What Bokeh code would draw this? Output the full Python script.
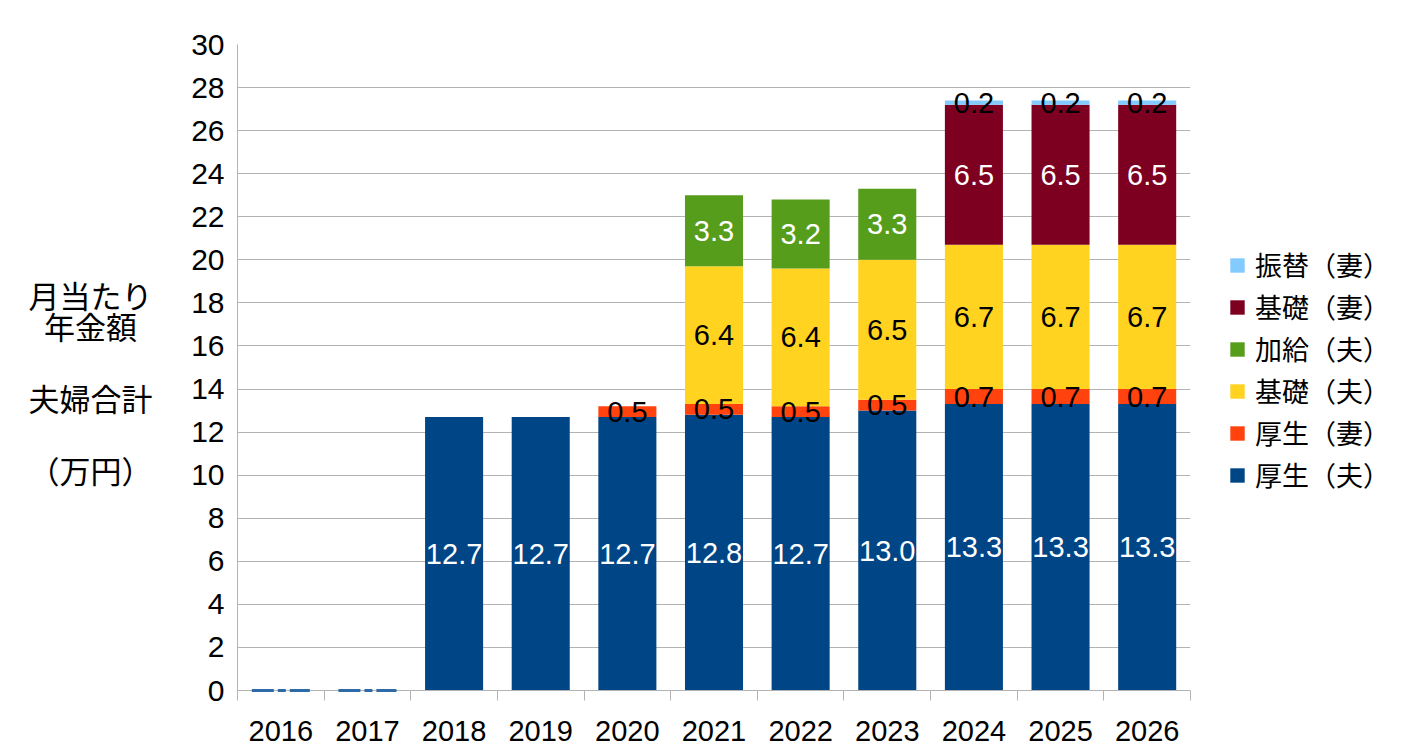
from bokeh.plotting import figure
from bokeh.models import (ColumnDataSource, FixedTicker, Legend, LegendItem, Range1d)
from bokeh.layouts import row
from bokeh.core.properties import value
from bokeh.embed import file_html
from bokeh.resources import INLINE

years = ["2016", "2017", "2018", "2019", "2020", "2021", "2022", "2023", "2024", "2025", "2026"]
kosei_otto = [0, 0, 12.7, 12.7, 12.7, 12.8, 12.7, 13.0, 13.3, 13.3, 13.3]
kosei_tsuma = [0, 0, 0, 0, 0.5, 0.5, 0.5, 0.5, 0.7, 0.7, 0.7]
kiso_otto = [0, 0, 0, 0, 0, 6.4, 6.4, 6.5, 6.7, 6.7, 6.7]
kakyu_otto = [0, 0, 0, 0, 0, 3.3, 3.2, 3.3, 0, 0, 0]
kiso_tsuma = [0, 0, 0, 0, 0, 0, 0, 0, 6.5, 6.5, 6.5]
furikae_tsuma = [0, 0, 0, 0, 0, 0, 0, 0, 0.2, 0.2, 0.2]

series_names = ["厚生（夫）", "厚生（妻）", "基礎（夫）", "加給（夫）", "基礎（妻）", "振替（妻）"]
series_values = [kosei_otto, kosei_tsuma, kiso_otto, kakyu_otto, kiso_tsuma, furikae_tsuma]
colors = ["#004586", "#ff420e", "#ffd320", "#579d1c", "#7e0021", "#83caff"]
label_colors = ["white", "black", "black", "white", "white", "black"]
y_ticks = list(range(0, 31, 2))
y_title_lines = ["月当たり", "年金額", "夫婦合計", "（万円）"]

BAR_W = 0.67
x = [i + 0.5 for i in range(len(years))]
keys = ["s%d" % i for i in range(len(series_names))]
data = {"x": x}
for k, v in zip(keys, series_values):
    data[k] = v
src = ColumnDataSource(data)

NUM_FONT = "Liberation Sans"
JP_FONT = "Noto Sans CJK JP"

TOP, FRAME_H, BOTTOM = 44, 646, 64
TW = 160

# ---- left panel with the y-axis title (frame aligned with main frame) ----
t = figure(width=TW, height=TOP + FRAME_H + BOTTOM, x_range=Range1d(0, TW),
           y_range=Range1d(TOP + FRAME_H, TOP),
           min_border=0, output_backend="svg", toolbar_location=None)
t.axis.visible = False
t.grid.grid_line_color = None
t.outline_line_color = None
t.text(x=[90] * 4, y=[294, 325, 397, 469], text=y_title_lines,
       text_align="center", text_baseline="middle", text_font=value(JP_FONT),
       text_font_size="31px", text_color="black")

# ---- main chart ----
p = figure(frame_width=953, frame_height=FRAME_H, min_border_left=237 - TW, min_border_top=TOP,
           min_border_bottom=BOTTOM, min_border_right=10,
           x_range=Range1d(0, len(years)), y_range=Range1d(0, 30),
           output_backend="svg", toolbar_location=None)

rs = p.vbar_stack(keys, x="x", width=BAR_W, color=colors, line_color=None, source=src)

# zero-valued bars drawn as a dashed line at the baseline
zx = [xi for xi, v in zip(x, kosei_otto) if v == 0]
p.segment(x0=[xi - BAR_W / 2 for xi in zx], x1=[xi + BAR_W / 2 for xi in zx],
          y0=[0] * len(zx), y1=[0] * len(zx), line_color="#2f6aa8",
          line_width=3, line_dash="22 4 8 4", level="overlay")

# value labels
lx, ly, lt, lc = [], [], [], []
for i in range(len(years)):
    base = 0.0
    for vals, c in zip(series_values, label_colors):
        v = vals[i]
        if v > 0:
            lx.append(x[i]); ly.append(base + v / 2); lt.append("%.1f" % v); lc.append(c)
        base += v
p.text(x=lx, y=ly, text=lt, text_color=lc, text_align="center", text_baseline="middle",
       text_font=value(NUM_FONT), text_font_size="29px")

# axes
p.yaxis.ticker = FixedTicker(ticks=y_ticks)
p.yaxis.minor_tick_line_color = None
p.yaxis.major_tick_out = 0
p.yaxis.major_tick_in = 0
p.yaxis.axis_line_color = "#b3b3b3"
p.yaxis.major_label_text_font_size = "30px"
p.yaxis.major_label_text_font = NUM_FONT
p.yaxis.major_label_text_color = "black"
p.yaxis.major_label_standoff = 13

p.xaxis.ticker = FixedTicker(ticks=x, minor_ticks=list(range(len(years) + 1)))
p.xaxis.major_label_overrides = {xi: y for xi, y in zip(x, years)}
p.xaxis.major_tick_out = 0
p.xaxis.major_tick_in = 0
p.xaxis.minor_tick_out = 10
p.xaxis.minor_tick_in = 0
p.xaxis.minor_tick_line_color = "#b3b3b3"
p.xaxis.axis_line_color = "#b3b3b3"
p.xaxis.major_label_text_font_size = "29px"
p.xaxis.major_label_text_font = NUM_FONT
p.xaxis.major_label_text_color = "black"
p.xaxis.major_label_standoff = 20

p.xgrid.grid_line_color = None
p.ygrid.grid_line_color = "#b3b3b3"
p.outline_line_color = None

# legend
items = [LegendItem(label=n, renderers=[r]) for n, r in zip(series_names, rs)][::-1]
legend = Legend(items=items, location=(38, 196), border_line_color=None,
                background_fill_alpha=0, label_text_font=JP_FONT,
                label_text_font_size="27px", label_text_color="black",
                glyph_width=18, glyph_height=18,
                label_standoff=9, spacing=3, margin=0, padding=4)
p.add_layout(legend, "right")

open("out.html", "w").write(file_html(row(t, p), INLINE))
